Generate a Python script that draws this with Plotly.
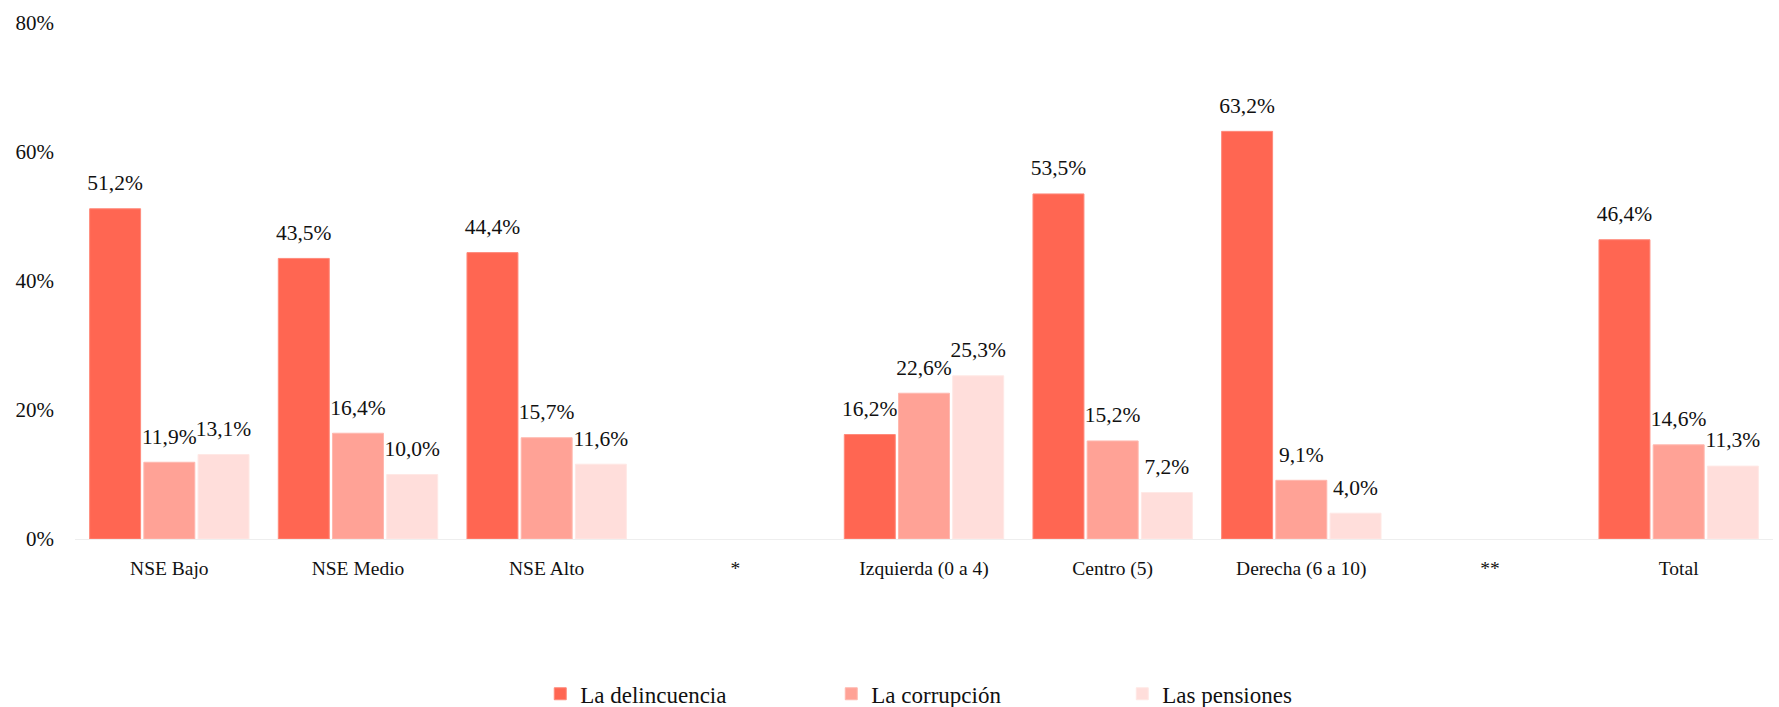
import plotly.graph_objects as go

categories = ["NSE Bajo", "NSE Medio", "NSE Alto", "*", "Izquierda (0 a 4)",
              "Centro (5)", "Derecha (6 a 10)", "**", "Total"]
delincuencia = [51.2, 43.5, 44.4, None, 16.2, 53.5, 63.2, None, 46.4]
corrupcion = [11.9, 16.4, 15.7, None, 22.6, 15.2, 9.1, None, 14.6]
pensiones = [13.1, 10.0, 11.6, None, 25.3, 7.2, 4.0, None, 11.3]
series_names = ["La delincuencia", "La corrupción", "Las pensiones"]
series_colors = ["#FF6652", "#FFA296", "#FFDEDB"]
series_lines = ["#FF8A7B", "#FFB8AF", "#FFE8E5"]
y_ticks = [0, 20, 40, 60, 80]
y_ticklabels = ["0%", "20%", "40%", "60%", "80%"]

FONT = "Liberation Serif, Times New Roman, serif"


def fmt(v):
    if v is None:
        return ""
    s = f"{v:.1f}".replace(".", ",") + "%"
    return f"<span style='font-size:21.5px'>{s}</span><br>\u00a0"


fig = go.Figure()
for name, vals, col, lc in zip(series_names, [delincuencia, corrupcion, pensiones],
                               series_colors, series_lines):
    fig.add_trace(go.Bar(
        x=categories, y=vals, name=name,
        marker=dict(color=col, line=dict(color=lc, width=1)),
        text=[fmt(v) for v in vals], texttemplate="%{text}",
        textposition="outside", constraintext="none", cliponaxis=False,
        textfont=dict(family=FONT, size=10.5, color="#111111"),
        hoverinfo="skip",
    ))

fig.update_layout(
    width=1779, height=707,
    paper_bgcolor="white", plot_bgcolor="white",
    barmode="group", bargap=0.138, bargroupgap=0.06,
    margin=dict(l=75, r=6, t=23, b=168, autoexpand=False),
    font=dict(family=FONT, color="#111111"),
    showlegend=True,
    legend=dict(orientation="h", x=0.274, xanchor="left", y=-0.30, yanchor="middle",
                entrywidth=246, entrywidthmode="pixels",
                font=dict(family=FONT, size=23, color="#111111"),
                traceorder="normal"),
    xaxis=dict(type="category", showgrid=False, zeroline=False,
               showline=True, linecolor="#EEEEEE", linewidth=1,
               ticks="", ticklabelstandoff=12,
               tickfont=dict(family=FONT, size=19.5, color="#111111")),
    yaxis=dict(range=[0, 80], tickmode="array", tickvals=y_ticks, ticktext=y_ticklabels,
               showgrid=False, zeroline=False, showline=False,
               ticks="", ticklabelstandoff=20,
               tickfont=dict(family=FONT, size=21, color="#111111")),
)

fig.write_html("out.html", config={"displayModeBar": False},
               post_script="document.body.style.margin='0';document.body.style.padding='0';")
